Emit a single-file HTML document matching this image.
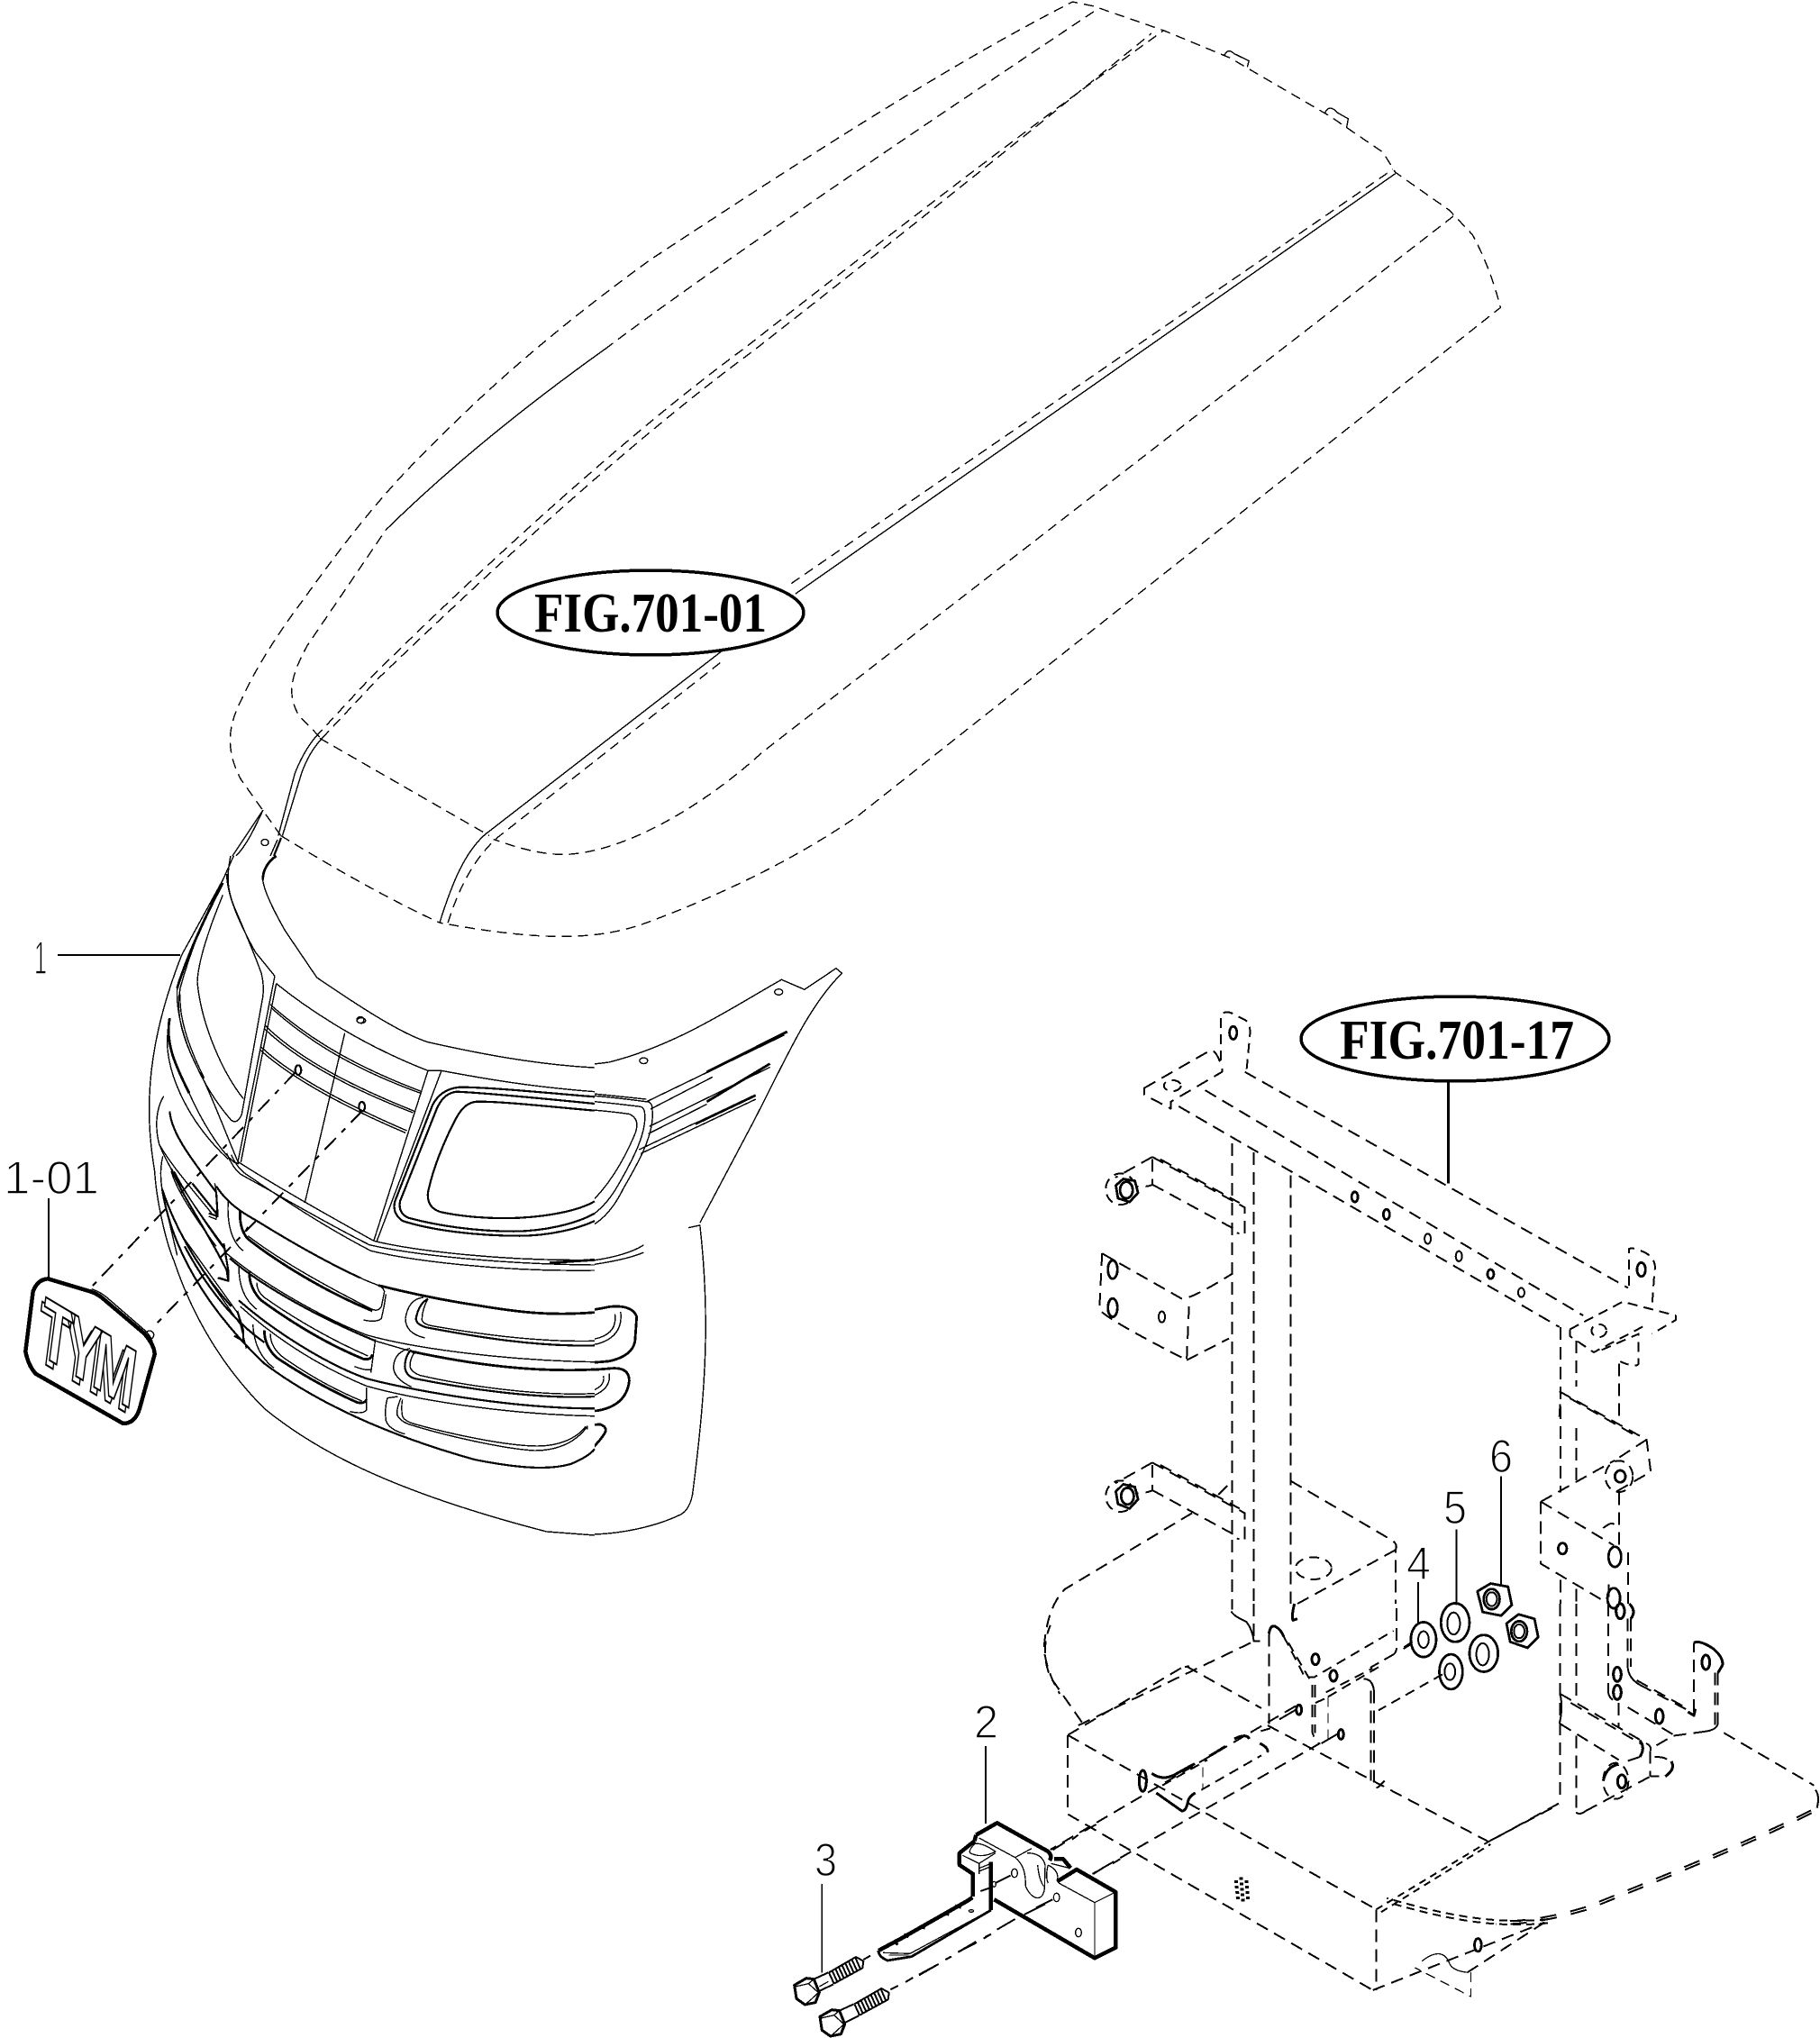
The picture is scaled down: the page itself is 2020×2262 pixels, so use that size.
<!DOCTYPE html>
<html><head><meta charset="utf-8"><title>FIG.701</title>
<style>
html,body{margin:0;padding:0;background:#fff}
svg{display:block}
path,line,ellipse,polygon{vector-effect:non-scaling-stroke;fill:none;stroke:#000;stroke-width:1.4;stroke-linejoin:round}
.d{stroke-dasharray:11 7}
.h{stroke-dasharray:14 8}
.f path,.f line,.f ellipse{stroke-width:2}
.f .n{stroke-width:1.3}
.f .w2{stroke-width:3}
.q{stroke-width:1.1 !important}
.t{stroke-width:2.2}
.k{stroke-width:4.5 !important}
.m{stroke-width:2.8 !important}
.w{fill:#fff}
.ld{stroke-width:2 !important;stroke-dasharray:18 9 6 9}
.dd{stroke-width:2 !important;stroke-dasharray:14 9}
.lab{font-family:"Liberation Sans",sans-serif;font-size:52px;fill:#000;stroke:#fff;stroke-width:1.5px}
.fig{font-family:"Liberation Serif",serif;font-weight:bold;font-size:62px;fill:#000}
.tym{font-family:"Liberation Sans",sans-serif;font-weight:bold;font-size:92px;fill:#fff;stroke:#000;stroke-width:2.2px;letter-spacing:-10px}
</style></head>
<body>
<svg xmlns="http://www.w3.org/2000/svg" width="2020" height="2262" viewBox="0 0 2020 2262" shape-rendering="crispEdges">
<defs><clipPath id="c"><rect x="660" y="880" width="1000" height="900"/></clipPath></defs>
<rect width="2020" height="2262" fill="#fff"/>

<!-- HOOD -->
<g transform="translate(240,0) scale(.9184,.676)">
<path class="d" d="M78,1372 L30,1280 C10,1230 15,1190 30,1150 C50,1090 80,1030 105,985 C150,900 200,810 257,736 C340,620 430,520 524,427 C700,270 880,110 1035,3 L1060,10 L1145,50 L1225,95 L1345,190 L1410,250 L1425,283 L1490,345 L1518,385 Q1540,440 1552,505 L775,1340 C690,1420 590,1480 520,1515 C460,1545 390,1545 270,1515"/>
<path class="d" d="M125,1210 L100,1175 C85,1140 90,1110 110,1060 C125,1030 160,960 205,870"/>
<path d="M205,870 C280,770 370,670 470,573"/>
<path class="d" d="M470,573 C600,440 850,210 1065,15"/>
<path class="d" d="M120,1210 L185,1115 C300,960 480,730 640,570 C800,400 980,210 1145,50"/>
<path class="d" d="M128,1212 L195,1115 C310,965 490,735 650,575 C810,405 985,215 1130,55"/>
<path d="M75,1372 L95,1270 Q105,1235 120,1210"/>
<path d="M80,1372 L103,1270 Q112,1235 128,1212"/>
<path d="M270,1515 C285,1450 300,1400 325,1370 L610,1070"/>
<path class="d" d="M280,1515 C295,1450 315,1405 340,1375 L612,1085"/>
<path d="M700,975 L1425,285"/>
<path class="d" d="M695,958 L1422,278"/>
<path class="d" d="M1495,355 L660,1235 C600,1310 500,1400 420,1403 C390,1403 360,1390 335,1378"/>
<path class="d" d="M125,1212 L330,1372"/>
<path class="d" d="M78,1372 Q190,1465 270,1515"/>
<path d="M1218,92 Q1222,78 1230,88 L1248,100 L1246,110"/>
<path d="M1340,185 Q1345,170 1355,185 L1368,195 L1366,210"/>
</g>

<!-- GRILLE: right-hand part -->
<g clip-path="url(#c)">
<g transform="translate(0,880) scale(.6378,.5485)">
<path d="M1205,1420 C1230,1200 1235,1050 1218,875 L1198,880 M1000,1500 C1080,1505 1150,1480 1185,1460 Q1200,1450 1205,1420"/>
<path d="M1218,870 L1300,690 C1360,560 1400,440 1465,365 L1455,355 L1400,398 L1360,378 C1280,430 1180,510 1060,545 C1000,555 960,552 900,540"/>
<ellipse cx="1120" cy="542" rx="7" ry="6"/><ellipse cx="1355" cy="403" rx="7" ry="6"/>
<path d="M950,600 C1000,605 1060,612 1125,620"/>
<path d="M1125,625 C1000,605 880,600 770,600 M960,900 C1030,890 1060,860 1085,800 C1110,750 1140,690 1135,640 Q1135,625 1125,625 M720,870 C800,890 900,905 960,900"/>
<path d="M1115,635 C1000,618 880,612 780,612 M955,885 C1020,875 1050,845 1075,795 C1100,745 1125,690 1122,650 Q1122,638 1115,635 M730,858 C800,875 900,890 955,885"/>
<path d="M900,630 C950,635 1040,640 1095,650 Q1115,660 1105,690 C1080,760 1040,830 1000,850 C970,858 900,860 830,850"/>
<path class="m" d="M1230,565 L1370,483 M1230,625 L1340,548 M1210,670 L1315,612"/>
<path d="M1125,625 L1365,490 M1132,640 L1240,575 M1130,675 L1340,555 M1128,690 L1230,630 M1115,730 L1315,620 M1112,722 L1210,668"/>
<path d="M650,905 C760,930 900,955 1000,950 C1060,945 1100,930 1120,915"/>
<path d="M650,915 C770,945 900,965 1010,958 C1065,950 1100,940 1120,930"/>
<path class="m" d="M900,1040 C960,1060 1020,1050 1060,1040 Q1100,1035 1108,1060 L1105,1110 Q1100,1140 1060,1150 C1020,1155 980,1155 940,1150"/>
<path d="M950,1120 C980,1122 1010,1120 1040,1115 Q1085,1100 1080,1050"/>
<path d="M950,1110 C980,1112 1010,1110 1035,1105 Q1075,1095 1070,1055"/>
<path class="m" d="M950,1170 C990,1170 1030,1168 1060,1165 Q1095,1160 1095,1190 Q1090,1240 1040,1250 C1010,1253 980,1253 950,1250"/>
<path d="M950,1230 C980,1230 1000,1228 1020,1225 Q1065,1210 1060,1175"/>
<path d="M950,1220 C980,1220 1000,1218 1015,1215 Q1055,1205 1050,1180"/>
<path class="m" d="M950,1275 C980,1278 1010,1280 1045,1278 Q1060,1285 1050,1300 Q1020,1350 970,1360"/>
</g></g>

<!-- GRILLE: upper-left, crop coordinates -->
<g transform="translate(160,950) scale(.33333)">
<path d="M298,0 L262,80 L125,330 C70,470 30,620 20,760 C12,870 20,960 35,1050"/>
<path d="M288,0 C275,60 275,110 300,170 C330,240 365,320 390,390 Q400,430 395,470 L325,860 Q310,895 290,880 C255,840 210,780 170,690 C125,600 105,520 120,440 C150,330 210,170 262,90"/>
<path class="m" d="M262,90 C230,150 150,310 110,440"/>
<path d="M262,130 C225,220 180,340 177,420 C190,560 260,720 330,808"/>
<path d="M435,400 L312,1020 M440,425 L322,1020"/>
<path d="M275,60 C275,130 320,230 370,320 L435,400"/>
<path d="M440,425 C520,490 700,620 945,715 M990,715 C1150,745 1300,770 1500,785"/>
<path d="M945,715 L990,715"/>
<path d="M395,80 C400,120 430,180 470,250 L575,405 C700,490 850,590 945,620 C1100,655 1300,695 1500,705"/>
<path class="m" d="M395,80 C395,50 410,20 440,0"/>
<path d="M945,715 L765,1280 M990,715 L775,1282 M668,590 L535,1155"/>
<path d="M420,495 C550,610 700,700 925,785 M422,505 C550,620 700,710 920,790 M403,565 C520,680 700,770 900,850 M400,575 C520,690 700,780 895,855 M388,635 C500,740 700,840 875,915 M385,645 C500,750 700,850 870,922"/>
<ellipse cx="723" cy="548" rx="14" ry="9"/>
<ellipse class="t" cx="513" cy="713" rx="10" ry="16"/>
<ellipse class="t" cx="725" cy="835" rx="10" ry="16"/>
<path class="t" d="M1500,802 C1350,790 1150,770 1050,770 C1000,775 975,800 960,830 L835,1150 Q825,1190 860,1215 C950,1245 1100,1265 1250,1265 C1350,1265 1450,1240 1500,1215"/>
<path class="t" d="M1500,825 C1350,810 1150,790 1040,785 C1000,790 985,820 975,840 L852,1150 Q845,1190 880,1205 C970,1230 1100,1250 1230,1250 C1330,1250 1440,1225 1500,1190"/>
<path class="t" d="M1500,848 C1350,835 1200,818 1110,818 C1070,820 1050,850 1030,890 C990,970 960,1050 945,1120 Q940,1170 985,1185 C1050,1200 1150,1210 1250,1205 C1350,1200 1450,1180 1500,1150"/>
<!-- left strands -->
<path class="m" d="M85,540 C70,620 100,690 150,790"/>
<path d="M150,790 C190,880 250,980 300,1020 L315,1025"/>
<path d="M110,440 C105,530 140,640 190,730 C230,810 270,920 315,1025 M120,460 C115,540 150,640 200,740"/>
<path d="M80,580 C60,700 140,880 280,1010"/>
<path d="M65,800 C40,840 35,900 50,960 C90,1060 170,1170 265,1300"/>
<path class="t" d="M85,850 C90,920 150,1000 240,1120 L245,1200 L215,1190"/>
<path d="M62,1000 C50,1050 55,1100 70,1160 L110,1330"/>
<path class="t" d="M90,1040 C130,1140 200,1230 275,1380 L280,1415 L245,1405"/>
<path d="M50,960 C90,1030 160,1110 225,1190"/>
<path class="t" d="M60,1110 C110,1260 200,1400 290,1500"/>
</g>

<!-- GRILLE: lower-left, crop coordinates -->
<g transform="translate(160,1300) scale(.33333)">
<path d="M35,0 C40,90 70,230 100,300 C160,480 260,650 400,790 C560,920 800,1060 1340,1200 L1500,1212"/>
<path class="t" d="M60,60 C90,250 200,450 400,640 C600,790 850,890 1100,960 C1250,990 1350,995 1420,975 Q1480,950 1500,925"/>
<path d="M315,-30 C440,50 600,140 765,232 C900,265 1200,300 1500,295"/>
<path d="M275,-60 Q300,0 330,15 C450,80 600,170 750,245 C900,280 1200,310 1500,312"/>
<path d="M290,-55 Q310,-10 340,10 C450,85 600,185 755,265 C900,300 1200,335 1500,330"/>
<path class="m" d="M1350,305 C1400,302 1450,298 1500,295"/>
<path class="t" d="M240,50 C280,110 330,140 375,165 C480,230 600,300 720,355"/>
<path class="m" d="M780,380 C900,410 1000,430 1100,445 C1250,470 1350,482 1500,470"/>
<path d="M720,355 C740,365 760,372 780,380"/>
<!-- row 1 left -->
<path class="m" d="M320,130 Q315,190 345,225 C440,300 600,400 760,465"/>
<path d="M345,215 C450,295 600,380 755,458 Q780,470 790,450 L800,400 Q795,385 780,380"/>
<path d="M280,100 C275,170 290,235 330,265 M345,185 L330,210"/>
<path d="M805,410 Q800,450 790,490 Q775,505 730,495"/>
<path d="M235,40 Q245,80 240,160 L215,150"/>
<path class="t" d="M160,40 L240,140"/>
<!-- row 2 left -->
<path class="m" d="M350,335 Q350,390 390,430 C500,510 620,580 730,625 Q755,630 760,610"/>
<path d="M375,370 Q375,400 400,420 C500,490 620,560 745,615"/>
<path d="M315,315 C315,380 335,430 375,460"/>
<path d="M770,560 L755,670 M700,650 Q740,665 755,660"/>
<path class="t" d="M265,240 L280,330 L280,365 L250,355"/>
<!-- row 3 left -->
<path class="m" d="M400,530 Q400,580 440,620 C530,680 620,730 710,770 Q735,775 740,760"/>
<path d="M420,540 Q420,590 470,625 C550,680 640,730 725,765"/>
<path d="M362,510 C365,570 385,620 432,655"/>
<path d="M740,720 L740,795 Q730,810 685,800"/>
<path class="t" d="M310,465 L330,530 L330,565 L300,548"/>
<path d="M310,465 L340,590"/>
<!-- bars -->
<path d="M270,270 C400,380 600,490 740,545 C900,590 1200,630 1500,635"/>
<path class="t" d="M285,290 C400,390 600,495 770,565"/>
<path class="m" d="M890,600 C1100,645 1300,670 1500,660"/>
<path d="M770,565 L890,600"/>
<path class="t" d="M315,430 C430,530 600,640 740,690 C850,720 1200,790 1500,790"/>
<path d="M320,450 C420,540 560,640 740,715 C900,760 1200,810 1500,815"/>
<path class="t" d="M135,250 C210,390 300,500 400,570"/>
<path d="M130,220 L310,470 M215,360 L320,510"/>
<path d="M90,0 C110,70 180,170 240,250 M100,0 C130,60 200,170 275,270"/>
<!-- right openings -->
<path class="t" d="M945,425 Q915,440 905,490 Q905,510 940,520 C1100,550 1300,585 1500,580"/>
<path d="M945,425 Q925,460 925,495 Q930,510 960,515 C1100,540 1300,570 1500,565"/>
<path d="M930,420 Q880,425 870,490 Q870,540 935,555"/>
<path class="t" d="M890,595 Q870,610 868,650 Q870,680 900,690 C1050,720 1300,760 1500,750"/>
<path d="M905,598 Q885,620 885,650 Q890,670 920,680 C1050,710 1300,750 1500,740"/>
<path d="M885,590 Q835,600 830,650 Q830,690 890,718"/>
<path d="M855,755 Q840,790 842,810 Q850,830 880,842 C1000,880 1200,925 1300,930 C1380,930 1440,900 1475,850"/>
<path d="M860,760 Q855,790 860,815 Q865,830 895,840 C1000,870 1200,915 1310,915 C1380,915 1440,890 1470,850"/>
<path d="M845,750 L810,755 Q800,790 805,830 Q815,860 868,875"/>
<path d="M1475,848 L1475,860"/>
</g>

<!-- top bit of the grille -->
<path d="M292,899 L258,950"/>
<path d="M292,899 C280,925 272,940 262,950"/>
<path class="t" d="M312,930 L304,950"/>
<path d="M308,932 L300,950"/>
<ellipse cx="294" cy="935" rx="4" ry="3.5"/>
<ellipse cx="400" cy="1132" rx="4" ry="3.5"/>

<line class="ld" x1="328" y1="1190" x2="102" y2="1428"/>
<line class="ld" x1="402" y1="1233" x2="170" y2="1473"/>
<line class="t" x1="64" y1="1060" x2="200" y2="1060"/>
<line class="t" x1="54" y1="1330" x2="54" y2="1420"/>

<!-- BADGE -->
<g transform="translate(0,1400) scale(.3333)">
<ellipse cx="498" cy="245" rx="14" ry="14" class="w"/>
<path class="k w" d="M160,58 L300,100 Q330,110 350,130 L480,240 Q515,280 515,310 L465,490 Q450,540 410,540 L120,375 Q95,350 85,300 L110,100 Q125,60 160,58 Z"/>
<path d="M305,92 Q335,102 358,122 L485,232 Q510,258 508,280"/>
</g>
<text class="tym" transform="matrix(.60,.36,-.13,.99,38,1507)">TYM</text>
<text class="tym" transform="matrix(.60,.36,-.13,.99,42,1502)">TYM</text>

<!-- FRAME upper -->
<g class="f" transform="translate(1100,1080) scale(.5867,.5102)">
<line class="h" x1="480" y1="215" x2="1205" y2="685"/>
<line class="h" x1="405" y1="255" x2="1120" y2="745"/>
<line class="h" x1="355" y1="290" x2="1075" y2="770"/>
<path class="h" d="M290,250 L415,168 Q425,165 437,205 L437,215 L340,280 L340,295 L290,265 Z"/>
<ellipse class="d" cx="343" cy="245" rx="16" ry="12"/>
<path class="d" d="M435,190 L435,90 Q445,80 460,90 L485,105 Q490,115 490,130 L483,215"/>
<ellipse class="m" cx="458" cy="130" rx="7" ry="14"/>
<line class="h" x1="456" y1="370" x2="456" y2="1385"/>
<line class="h" x1="497" y1="390" x2="497" y2="1372"/>
<line class="h" x1="567" y1="440" x2="567" y2="1372"/>
<ellipse class="m" cx="688" cy="487" rx="6" ry="11"/><ellipse class="m" cx="748" cy="525" rx="6" ry="11"/><ellipse cx="826" cy="578" rx="6" ry="11"/><ellipse cx="885" cy="616" rx="6" ry="11"/><ellipse class="m" cx="945" cy="655" rx="6" ry="10"/><ellipse cx="1003" cy="695" rx="6" ry="10"/>
<path class="d" d="M1095,775 L1195,715 L1295,745 L1295,755 L1250,785 M1095,775 L1095,790 L1140,825 L1240,765"/>
<ellipse class="d" cx="1150" cy="778" rx="14" ry="14"/>
<path class="d" d="M1155,820 L1225,785 L1225,850 Q1220,860 1190,845"/>
<path class="d" d="M1207,680 L1207,600 Q1215,595 1240,610 Q1260,625 1255,650 L1250,730"/>
<ellipse class="m" cx="1230" cy="645" rx="8" ry="15"/>
<line class="h" x1="1077" y1="770" x2="1077" y2="1130"/>
<line class="h" x1="1107" y1="800" x2="1107" y2="900"/>
<line class="h" x1="1107" y1="990" x2="1107" y2="1110"/>
<line class="h" x1="1188" y1="850" x2="1188" y2="975"/>
<!-- left brackets -->
<path class="h" d="M305,400 L480,510 L480,570 L465,565 M305,460 L465,560 M305,400 L235,445 M305,405 L305,460 Q300,465 275,465 M320,405 L470,500"/>
<ellipse class="d" cx="245" cy="470" rx="28" ry="34"/>
<polygon class="m w" points="236,462 250,448 272,452 278,478 262,498 240,490"/>
<ellipse class="m" cx="256" cy="472" rx="12" ry="18"/>
<path class="h" d="M305,1065 L480,1175 L480,1235 L465,1230 M305,1125 L465,1225 M305,1065 L235,1110 M305,1070 L305,1125 Q300,1130 275,1132 M320,1070 L470,1165 M430,1135 L456,1105"/>
<ellipse class="d" cx="245" cy="1138" rx="28" ry="34"/>
<polygon class="m w" points="236,1128 250,1112 272,1118 278,1145 262,1165 240,1155"/>
<ellipse class="m" cx="258" cy="1138" rx="12" ry="18"/>
<!-- block -->
<path class="h" d="M210,610 L360,708 Q375,712 455,655 M210,610 L205,730 Q205,745 370,842 L375,710 M370,842 L450,795"/>
<ellipse class="m" cx="230" cy="645" rx="9" ry="20"/><ellipse cx="230" cy="728" rx="9" ry="20" class="m"/><ellipse cx="323" cy="748" rx="6" ry="12"/>
<!-- lower box -->
<path class="h" d="M567,1105 L760,1235 Q770,1245 765,1255 L765,1372 M765,1255 L575,1375"/>
<ellipse class="d" cx="610" cy="1295" rx="34" ry="24"/>
<path class="h" d="M380,1175 L140,1340 Q105,1380 100,1470 Q105,1520 130,1568"/>
<!-- right -->
<path class="h" d="M1040,1150 L1180,1060 M1040,1150 L1040,1285 L1165,1370 M1040,1150 L1178,1245 M1075,910 L1240,1015 L1248,1085 L1180,1130 M1075,965 L1078,910 M1240,1015 L1180,1060 M1178,1200 Q1175,1190 1150,1215 M1095,925 L1225,1010 M1188,1130 L1188,1250 M1205,1260 L1205,1372"/>
<ellipse class="d" cx="1188" cy="1095" rx="26" ry="34"/>
<ellipse class="m" cx="1190" cy="1095" rx="10" ry="13"/>
<ellipse cx="1081" cy="1252" rx="8" ry="12" class="m"/>
<ellipse cx="1180" cy="1270" rx="12" ry="22" class="m"/><ellipse cx="1178" cy="1360" rx="12" ry="22" class="m"/>
<line class="h" x1="1077" y1="1320" x2="1077" y2="1372"/>
<line class="h" x1="1107" y1="1340" x2="1107" y2="1372"/>
<line class="h" x1="1168" y1="1330" x2="1168" y2="1372"/>
<!-- washers & nuts -->
<line x1="780" y1="1470" x2="805" y2="1453"/>
<ellipse class="w m" cx="818" cy="1450" rx="24" ry="38"/><ellipse cx="818" cy="1450" rx="10" ry="18"/>
<ellipse class="w m" cx="878" cy="1413" rx="27" ry="42"/><ellipse cx="875" cy="1415" rx="12" ry="24"/>
<ellipse class="w m" cx="932" cy="1480" rx="27" ry="40"/><ellipse cx="930" cy="1482" rx="12" ry="24"/>
<ellipse class="w m" cx="870" cy="1520" rx="22" ry="38"/><ellipse cx="868" cy="1520" rx="10" ry="18"/>
<polygon class="w m" points="920,1345 945,1328 978,1335 985,1375 965,1398 930,1390"/>
<ellipse class="m" cx="947" cy="1362" rx="15" ry="22"/><ellipse cx="947" cy="1362" rx="10" ry="15"/>
<polygon class="w m" points="975,1415 998,1395 1028,1405 1035,1445 1015,1468 982,1455"/>
<ellipse class="m" cx="999" cy="1432" rx="15" ry="22"/><ellipse cx="999" cy="1432" rx="10" ry="15"/>
<line class="k" style="stroke-width:3px !important" x1="865" y1="238" x2="865" y2="458"/>
<line x1="808" y1="1325" x2="808" y2="1415"/>
<line x1="880" y1="1210" x2="880" y2="1375"/>
<line x1="965" y1="1095" x2="965" y2="1330"/>
</g>

<!-- BASE PLATE -->
<g class="f" transform="translate(800,1700) scale(.7781,.3584)">
<path class="h" d="M495,630 L935,1170 M495,630 L660,418 M780,600 L1095,960 M495,630 L495,875 L930,1420 M930,1420 L1175,1210 M1095,960 L1195,845"/>
<path class="h" d="M935,1170 L935,1420"/>
<path class="dd" style="stroke-dasharray:8 6 !important" d="M935,1170 L1095,960"/>
<path class="dd" style="stroke-dasharray:8 6 !important" d="M942,1178 L1098,968"/>
<path class="h" d="M515,590 L470,450 Q455,370 470,290"/>
<path class="h" d="M510,600 L760,340"/>
<path class="h" d="M820,540 L470,985 M855,655 L530,1060"/>
<path style="stroke-dasharray:9 6" d="M1180,1200 C1100,1218 1030,1185 950,1135"/>
<path style="stroke-dasharray:9 6" d="M1180,1212 C1100,1230 1030,1197 950,1147"/>
<path class="n" d="M1000,1330 Q1030,1280 1040,1340 Q1045,1360 1065,1365"/>
<path class="d n" d="M1070,1365 L1070,1440 L990,1350"/>
<path class="h" d="M1175,1210 L1065,1365"/>
<ellipse class="m" cx="1080" cy="1280" rx="5" ry="20"/>
<path style="stroke-width:4px;stroke-dasharray:3 3" d="M735,1080 L738,1145 M750,1080 L752,1145 M742,1070 L745,1150"/>
</g>

<!-- center, crop coordinates -->
<g class="f" transform="translate(1240,1780) scale(.33333)">
<path class="h" d="M230,208 L480,348"/>
<path d="M225,210 L240,208"/>
<path class="h" d="M505,100 L505,400"/>
<path class="w2" d="M505,100 Q510,70 525,75 Q545,85 555,110"/>
<path class="d" d="M555,110 L625,245 L655,245 L920,90 M570,130 L640,250"/>
<path class="h" d="M650,270 L650,430 Q655,445 670,465"/>
<path class="h" d="M658,270 L658,430"/>
<path class="d" d="M660,330 L705,310"/>
<path class="d n" d="M702,310 L702,460"/>
<path class="d" d="M695,295 L850,215 M702,310 L880,205"/>
<path d="M820,250 Q850,250 855,290"/>
<path class="h" d="M855,290 L855,600 Q850,620 870,610 L890,590 M845,290 L845,590"/>
<path class="h" d="M930,15 L930,150"/>
<path d="M930,150 Q928,165 918,170"/>
<path class="d" d="M918,170 L830,220"/>
<path d="M380,25 Q385,40 430,60 Q450,85 455,125 L475,125"/>
<path class="h" d="M455,0 L455,125"/>
<path class="w2" d="M590,0 Q580,40 585,55 L600,50"/>
<path d="M540,385 L600,350 M680,465 L740,430"/>
<ellipse class="w2 w" cx="605" cy="353" rx="9" ry="16"/>
<ellipse class="w2 w" cx="745" cy="435" rx="9" ry="16"/>
<ellipse class="w2" cx="660" cy="185" rx="12" ry="18"/>
<ellipse class="w2" cx="720" cy="240" rx="12" ry="18"/>
<ellipse class="w2" cx="85" cy="590" rx="12" ry="35"/>
<path class="w2" d="M115,565 Q150,590 190,570"/>
<path class="w2" stroke-dasharray="26 18" d="M190,570 L235,545 L320,500 L360,475"/>
<path class="w2" d="M390,450 Q430,430 440,450"/>
<path class="d" d="M150,605 L300,520"/>
<path class="w2" d="M130,630 L215,690 Q230,690 235,660 Q240,640 260,630"/>
<path class="d n" d="M285,545 L285,615"/>
<path class="w2" d="M475,465 Q505,480 500,495"/>
<path class="d" d="M280,620 L480,505"/>
<path class="d" d="M1083,235 L870,355"/>
<path class="d" d="M955,145 L1000,115"/>
<path class="d" d="M510,415 L475,425"/>
</g>

<!-- right lower, crop coordinates -->
<g class="f" transform="translate(1660,1780) scale(.33333)">
<path class="h" d="M215,0 L215,650 M268,0 L268,325 M268,440 L268,695"/>
<path d="M268,695 Q280,705 300,690"/>
<path class="h" d="M300,690 L515,575"/>
<path class="h" d="M375,0 L375,290"/>
<path d="M375,290 Q375,310 390,320"/>
<path class="h" d="M410,330 L410,410"/>
<path class="h" d="M440,50 L440,215"/>
<path d="M440,215 Q445,250 480,270"/>
<path class="h" d="M480,270 L650,360"/>
<path class="h" d="M660,360 L660,130"/>
<path class="w2" d="M660,130 Q680,120 725,150 Q760,180 755,205 L740,230"/>
<path class="h" d="M740,230 L740,400 M730,230 L730,410 M450,50 L450,210"/>
<path d="M740,400 Q735,420 700,425"/>
<path class="h" d="M700,425 L590,440 L530,475"/>
<path class="h" d="M470,255 L640,350"/>
<path class="h" d="M215,300 L510,470 M250,330 L490,470"/>
<path d="M510,470 Q520,480 515,490"/>
<path class="h" d="M515,490 L515,575 M215,400 L410,520 M440,345 L590,435"/>
<path d="M215,300 Q225,350 212,400"/>
<path class="w2" d="M480,455 Q500,480 480,510"/>
<path class="h" d="M480,510 L420,530"/>
<path d="M530,510 Q560,510 570,518"/>
<path class="w2" d="M585,525 Q600,550 565,575"/>
<path d="M515,575 L545,575"/>
<ellipse class="d" cx="400" cy="590" rx="42" ry="60"/>
<path class="w2" d="M358,590 Q370,540 410,535"/>
<ellipse class="w2" cx="420" cy="592" rx="14" ry="22"/>
<ellipse class="w2" cx="405" cy="235" rx="13" ry="24"/>
<ellipse class="w2" cx="405" cy="295" rx="13" ry="24"/>
<ellipse class="w2" cx="545" cy="375" rx="13" ry="24"/>
<ellipse class="w2" cx="700" cy="195" rx="13" ry="24"/>
<ellipse class="w2" cx="415" cy="25" rx="14" ry="25"/>
<path class="w2" d="M445,0 Q470,25 450,50"/>
<path class="h" d="M760,430 L1060,605"/>
<path d="M1065,620 Q1080,640 1070,680"/>
<path style="stroke-dasharray:18 16" d="M1050,688 C850,790 500,930 300,1010 C200,1040 100,1060 0,1057"/>
<path style="stroke-dasharray:18 16" d="M1052,697 C850,800 500,940 303,1019 C200,1049 100,1069 0,1067"/>
<path class="h" d="M210,665 L0,780"/>
<path class="w2" d="M640,360 L660,372 L665,350"/>
</g>

<!-- HINGE -->
<g class="f" transform="translate(1000,1900) scale(.3333)">
<path class="w" style="stroke:none" d="M250,410 L320,370 L500,470 L565,520 L585,525 L715,600 L715,785 L645,820 L300,625 L300,660 L240,620 L240,540 L195,510 L195,470 L245,425 Z"/>
<path class="k" d="M250,410 L320,370 L490,465 Q505,480 495,495 M510,490 L540,490 L565,520 M520,565 L585,525 L715,600 L715,785 L645,820 L310,625"/>
<path class="k" d="M245,430 L195,470 L195,510 L240,540 L240,615 M300,500 L300,660 M250,410 L245,430"/>
<path class="n" d="M260,420 L380,485 L435,455 M380,485 C410,510 415,540 415,580 C430,620 470,640 478,590 L480,510 Q470,470 420,470 M525,570 L645,635 L715,600 M645,635 L645,820"/>
<path class="n" d="M245,440 Q225,460 230,470 Q270,490 315,465 L290,450 Q260,435 245,440 Z M205,478 L260,505 L315,470 M260,505 L260,540 M262,520 L300,505 M262,530 L300,515"/>
<path class="n" d="M455,510 Q460,560 475,580 M490,510 Q530,530 520,565 M490,510 Q480,550 490,570 M500,505 Q540,515 560,520"/>
<ellipse class="n" cx="378" cy="537" rx="10" ry="14"/><ellipse class="n" cx="518" cy="618" rx="10" ry="14"/><ellipse class="n" cx="591" cy="735" rx="10" ry="14"/><ellipse class="n" cx="234" cy="663" rx="8" ry="4"/>
<ellipse class="n" cx="310" cy="574" rx="6" ry="9"/>
<path d="M365,545 L315,570 M505,625 L450,652 M300,585 L265,597"/>
<path d="M15,900 L40,885 M60,875 L125,840 M150,825 L165,815 M190,800 L250,765 M280,750 L300,740 M320,725 L380,690 M410,675 L480,640"/>
<path d="M505,460 L545,435 M570,425 L590,410 M610,397 L650,375 M640,540 L680,515 M705,505 L730,490"/>
</g>

<!-- TAIL & BOLTS -->
<g class="f" transform="translate(860,2030) scale(.33333)">
<path class="k" d="M345,405 L420,365 L640,240 L658,228"/>
<path class="m" d="M345,405 Q345,425 375,438 L455,425 L720,270"/>
<path class="n" d="M360,412 L450,415 L700,280 M380,420 L445,420"/>
<path class="w2" d="M395,375 L410,385 M430,350 L445,360 M480,325 L500,330 M560,280 L580,285 M600,255 L620,262"/>
<g id="bolt">
<polygon class="w2 w" points="65,520 105,497 130,500 148,545 135,578 100,585 72,565"/>
<path class="n" d="M68,525 L112,515 L130,500 M112,515 L145,545 L118,570 L100,585"/>
<path d="M130,500 L178,478 M148,540 L195,517"/>
<path d="M180,478 L197,515 M191,472 L208,509 M202,466 L219,503 M213,460 L230,497 M224,454 L241,491 M235,448 L252,485 M246,442 L263,479 M257,436 L274,473 M268,428 L285,467"/>
<path d="M180,478 L270,426 L295,440 L292,463 L197,515"/>
</g>
<path d="M148,525 L178,508" class="n"/>
<g transform="translate(85,105)">
<polygon class="w2 w" points="65,520 105,497 130,500 148,545 135,578 100,585 72,565"/>
<path class="n" d="M68,525 L112,515 L130,500 M112,515 L145,545 L118,570 L100,585"/>
<path d="M130,500 L178,478 M148,540 L195,517"/>
<path d="M180,478 L197,515 M191,472 L208,509 M202,466 L219,503 M213,460 L230,497 M224,454 L241,491 M235,448 L252,485 M246,442 L263,479 M257,436 L274,473 M268,428 L285,467"/>
<path d="M180,478 L270,426 L295,440 L292,463 L197,515"/>
</g>
<path d="M295,435 L318,422 M385,535 L410,522 M435,510 L455,498 M480,487 L545,450 M568,435 L588,425 M610,410 L672,378 M695,365 L720,350"/>
<line class="n" x1="157" y1="183" x2="157" y2="478"/>
<line class="t" x1="0" y1="0" x2="0" y2="0"/>
</g>
<line x1="1094" y1="1938" x2="1094" y2="2024" style="stroke-width:2"/>

<!-- ELLIPSE CALLOUTS -->
<ellipse class="w" style="stroke-width:3.5" cx="722" cy="680" rx="170" ry="47"/>
<text class="fig" x="593" y="701" textLength="258" lengthAdjust="spacingAndGlyphs">FIG.701-01</text>
<ellipse class="w" style="stroke-width:3.5" cx="1615" cy="1153" rx="171" ry="47"/>
<text class="fig" x="1487" y="1175" textLength="260" lengthAdjust="spacingAndGlyphs">FIG.701-17</text>

<!-- PART LABELS -->
<text class="lab" x="38" y="1081" textLength="14" lengthAdjust="spacingAndGlyphs">1</text>
<text class="lab" x="4" y="1325" textLength="106" lengthAdjust="spacingAndGlyphs">1-01</text>
<text class="lab" x="1081" y="1929" textLength="27" lengthAdjust="spacingAndGlyphs">2</text>
<text class="lab" x="904" y="2082" textLength="25" lengthAdjust="spacingAndGlyphs">3</text>
<text class="lab" x="1561" y="1753" textLength="27" lengthAdjust="spacingAndGlyphs">4</text>
<text class="lab" x="1602" y="1691" textLength="26" lengthAdjust="spacingAndGlyphs">5</text>
<text class="lab" x="1653" y="1634" textLength="26" lengthAdjust="spacingAndGlyphs">6</text>
</svg>
</body></html>
